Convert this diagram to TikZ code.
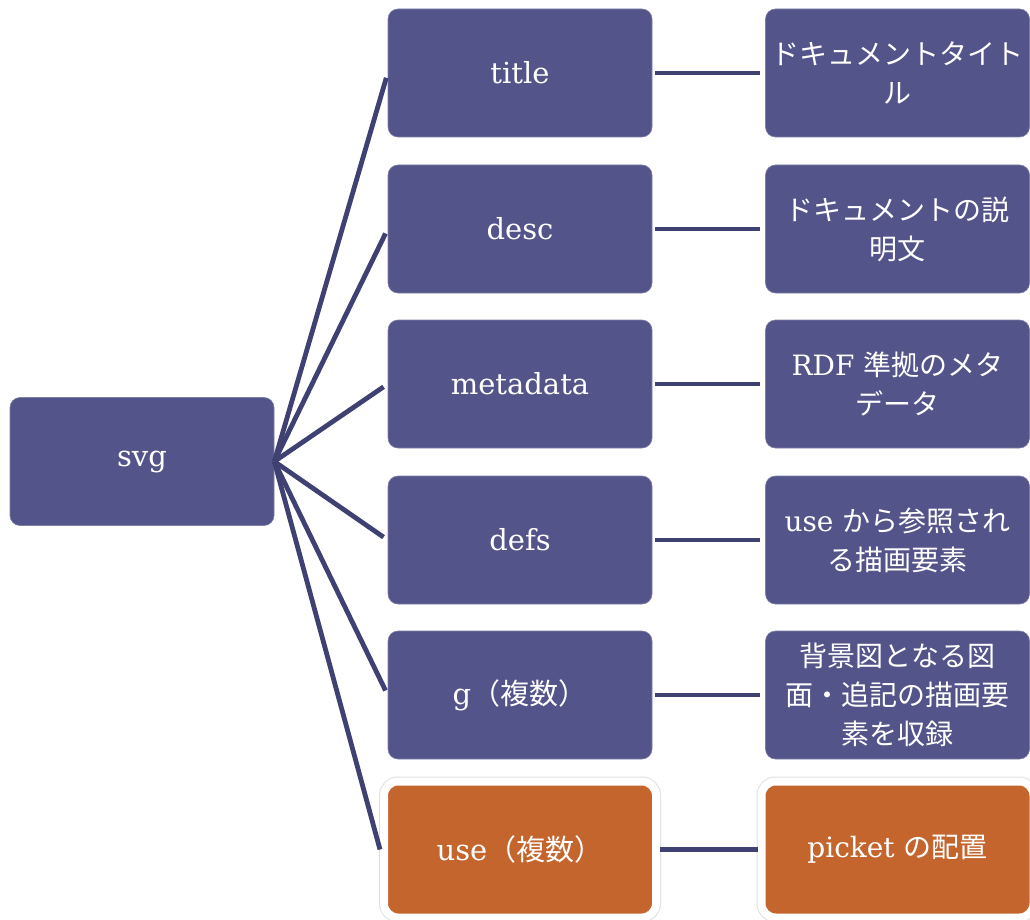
\documentclass[tikz,border=0pt]{standalone}
\usepackage{fontspec}
\setmainfont{DejaVu Serif}
\newfontfamily\jp{Noto Sans CJK JP}
\usetikzlibrary{shadows}
\definecolor{boxblue}{RGB}{83,84,138}
\definecolor{boxorange}{RGB}{196,101,46}
\definecolor{linkblue}{RGB}{63,65,114}
\begin{document}
\begin{tikzpicture}[x=1pt,y=-1pt,
  box/.style={rounded corners=10pt, fill=boxblue, draw=boxblue!75!white, line width=0.6pt,
    minimum width=264pt, minimum height=128pt, text=white, inner sep=0pt, align=center,
    font=\fontsize{29}{39}\selectfont},
  hl/.style={box, rounded corners=14pt, fill=boxorange, draw=white, line width=8pt,
    minimum width=272pt, minimum height=136pt,
    preaction={draw=black!12, line width=10pt},
    drop shadow={shadow xshift=3pt, shadow yshift=-3pt, opacity=0.18}},
  rbox/.style={box, font=\fontsize{28}{39}\selectfont},
  rhl/.style={hl, font=\fontsize{28}{39}\selectfont},
  link/.style={draw=linkblue, line width=4.8pt}]
\useasboundingbox (0,0) rectangle (1030,920);
\node[box] (svg) at (142,461.5) {\raisebox{-3pt}{svg}};
\node[box] (title) at (520,73) {title};
\node[box] (desc) at (520,229) {desc};
\node[box] (meta) at (520,384) {metadata};
\node[box] (defs) at (520,540) {defs};
\node[box] (g) at (520,695) {g{\jp （複数）}};
\node[hl] (use) at (520,849.5) {use{\jp （複数）}};
\node[rbox] (rtitle) at (897.5,73) {{\jp ドキュメントタイト}\\{\jp ル}};
\node[rbox] (rdesc) at (897.5,229) {{\jp ドキュメントの説}\\{\jp 明文}};
\node[rbox] (rmeta) at (897.5,384) {RDF {\jp 準拠のメタ}\\{\jp データ}};
\node[rbox] (rdefs) at (897.5,540) {use {\jp から参照され}\\{\jp る描画要素}};
\node[rbox] (rg) at (897.5,695) {{\jp 背景図となる図}\\{\jp 面・追記の描画要}\\{\jp 素を収録}};
\node[rhl] (ruse) at (897.5,849.5) {picket {\jp の配置}};
\foreach \n in {title,desc,meta,defs,g}
  \draw[link, shorten >=5pt] (svg.east) -- (\n.west);
\draw[link] (svg.east) -- (use.west);
\draw[link, shorten <=3pt, shorten >=5pt] (title.east) -- (rtitle.west);
\draw[link, shorten <=3pt, shorten >=5pt] (desc.east) -- (rdesc.west);
\draw[link, shorten <=3pt, shorten >=5pt] (meta.east) -- (rmeta.west);
\draw[link, shorten <=3pt, shorten >=5pt] (defs.east) -- (rdefs.west);
\draw[link, shorten <=3pt, shorten >=5pt] (g.east) -- (rg.west);
\draw[link] (use.east) -- (ruse.west);
\end{tikzpicture}
\end{document}
